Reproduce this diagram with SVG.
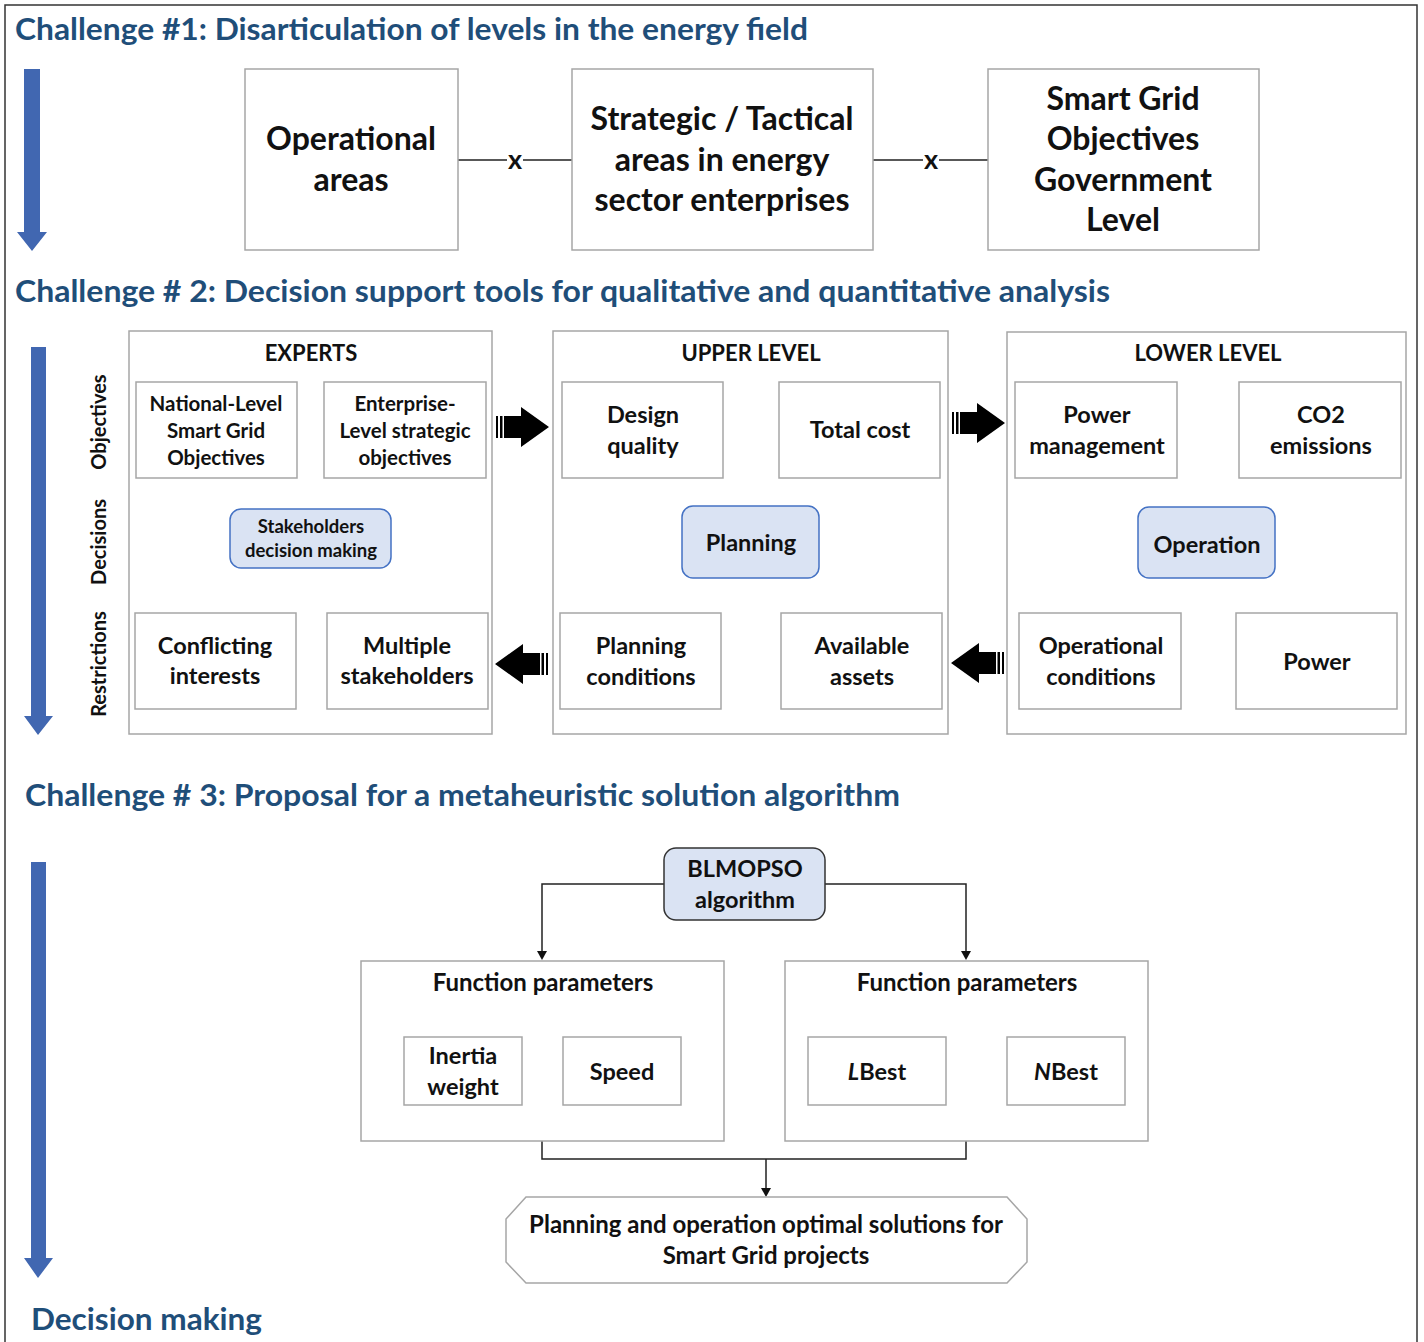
<svg xmlns="http://www.w3.org/2000/svg" width="1424" height="1342" viewBox="0 0 1424 1342">
<style>
text{font-family:Lato,"Liberation Sans",sans-serif;font-weight:bold;fill:#111;text-anchor:middle}
.title{fill:#1F4E79;text-anchor:start;font-size:30px}
.box{fill:#fff;stroke:#A6A6A6;stroke-width:1.5}
.grp{fill:#fff;stroke:#A6A6A6;stroke-width:1.5}
.dec{fill:#DAE3F3;stroke:#4472C4;stroke-width:1.5}
.blue{fill:#4167B1}
.conn{fill:none;stroke:#222;stroke-width:1.5}
.blk{fill:#000}
.t32{font-size:32px}
.t23{font-size:23.5px}
.t22{font-size:22px}
.xm{font-size:27px}
.fp{font-size:24px}
.t20{font-size:20.5px}
.t18{font-size:18.5px}
.side{font-size:20px}
</style>
<rect width="1424" height="1342" fill="#fff"/>
<path d="M5,1342 V5 H1417 V1342" fill="none" stroke="#333" stroke-width="1.5"/>

<!-- Titles -->
<text class="title" x="15" y="40" textLength="793" lengthAdjust="spacingAndGlyphs">Challenge #1: Disarticulation of levels in the energy field</text>
<text class="title" x="15" y="302" textLength="1095" lengthAdjust="spacingAndGlyphs">Challenge # 2: Decision support tools for qualitative and quantitative analysis</text>
<text class="title" x="25" y="806" textLength="875" lengthAdjust="spacingAndGlyphs">Challenge # 3: Proposal for a metaheuristic solution algorithm</text>
<text class="title" x="31" y="1330" textLength="231" lengthAdjust="spacingAndGlyphs">Decision making</text>

<!-- Blue arrows -->
<path class="blue" d="M24,69 H40 V232 H47 L32,251 L17,232 H24 Z"/>
<path class="blue" d="M31,347 H46 V716 H53 L38,735 L24,716 H31 Z"/>
<path class="blue" d="M31,862 H46 V1258 H53 L38,1278 L24,1258 H31 Z"/>

<!-- Side labels -->
<text class="side" transform="translate(106,422) rotate(-90)">Objectives</text>
<text class="side" transform="translate(106,542) rotate(-90)">Decisions</text>
<text class="side" transform="translate(106,664) rotate(-90)">Restrictions</text>

<!-- Connectors -->
<g id="connectors">
<path class="conn" d="M458,160 H507 M523,160 H572"/>
<text class="xm" x="515" y="169">x</text>
<path class="conn" d="M873,160 H923 M939,160 H988"/>
<text class="xm" x="931" y="169">x</text>
<g class="blk">
<rect x="496" y="416" width="2" height="22"/><rect x="500" y="416" width="2.5" height="22"/>
<path d="M504,416 H521 V407 L549,427 L521,447 V438 H504 Z"/>
<rect x="952" y="412" width="2" height="22"/><rect x="956" y="412" width="2.5" height="22"/>
<path d="M960,412 H977 V403 L1005,423 L977,443 V434 H960 Z"/>
<rect x="546" y="653" width="2" height="22"/><rect x="541.5" y="653" width="2.5" height="22"/>
<path d="M540,653 H523 V644 L495,664 L523,684 V675 H540 Z"/>
<rect x="1002" y="652" width="2" height="22"/><rect x="997.5" y="652" width="2.5" height="22"/>
<path d="M996,652 H979 V643 L951,663 L979,683 V674 H996 Z"/>
</g>
<path class="conn" d="M664,884 H542 V952"/>
<path d="M537,951 H547 L542,960 Z" fill="#111"/>
<path class="conn" d="M825,884 H966 V952"/>
<path d="M961,951 H971 L966,960 Z" fill="#111"/>
<path class="conn" d="M542,1141 V1159 H966 V1141 M766,1159 V1189"/>
<path d="M761,1188 H771 L766,1197 Z" fill="#111"/>
</g>

<!-- Challenge 1 nodes -->
<g id="operational-areas">
<rect class="box" x="245" y="69" width="213" height="181"/>
<text class="t32" x="351" y="150">Operational</text>
<text class="t32" x="351" y="191">areas</text>
</g>
<g id="strategic-tactical">
<rect class="box" x="572" y="69" width="301" height="181"/>
<text class="t32" x="722" y="130">Strategic / Tactical</text>
<text class="t32" x="722" y="171">areas in energy</text>
<text class="t32" x="722" y="211">sector enterprises</text>
</g>
<g id="smart-grid-government">
<rect class="box" x="988" y="69" width="271" height="181"/>
<text class="t32" x="1123" y="110">Smart Grid</text>
<text class="t32" x="1123" y="150">Objectives</text>
<text class="t32" x="1123" y="191">Government</text>
<text class="t32" x="1123" y="231">Level</text>
</g>

<!-- Experts -->
<g id="experts">
<rect class="grp" x="129" y="331" width="363" height="403"/>
<text class="t22" x="311" y="361">EXPERTS</text>
</g>
<g id="national-level">
<rect class="box" x="136" y="382" width="161" height="96"/>
<text class="t20" x="216" y="411">National-Level</text>
<text class="t20" x="216" y="438">Smart Grid</text>
<text class="t20" x="216" y="465">Objectives</text>
</g>
<g id="enterprise-level">
<rect class="box" x="324" y="382" width="162" height="96"/>
<text class="t20" x="405" y="411">Enterprise-</text>
<text class="t20" x="405" y="438">Level strategic</text>
<text class="t20" x="405" y="465">objectives</text>
</g>
<g id="stakeholders-decision">
<rect class="dec" x="230" y="509" width="161" height="59" rx="11"/>
<text class="t18" x="311" y="533">Stakeholders</text>
<text class="t18" x="311" y="557">decision making</text>
</g>
<g id="conflicting-interests">
<rect class="box" x="135" y="613" width="161" height="96"/>
<text class="t23" x="215" y="654">Conflicting</text>
<text class="t23" x="215" y="684">interests</text>
</g>
<g id="multiple-stakeholders">
<rect class="box" x="327" y="613" width="161" height="96"/>
<text class="t23" x="407" y="654">Multiple</text>
<text class="t23" x="407" y="684">stakeholders</text>
</g>

<!-- Upper level -->
<g id="upper-level">
<rect class="grp" x="553" y="331" width="395" height="403"/>
<text class="t22" x="751" y="361">UPPER LEVEL</text>
</g>
<g id="design-quality">
<rect class="box" x="562" y="382" width="161" height="96"/>
<text class="t23" x="643" y="423">Design</text>
<text class="t23" x="643" y="454">quality</text>
</g>
<g id="total-cost">
<rect class="box" x="779" y="382" width="161" height="96"/>
<text class="t23" x="860" y="438">Total cost</text>
</g>
<g id="planning">
<rect class="dec" x="682" y="506" width="137" height="72" rx="11"/>
<text class="t23" x="751" y="551">Planning</text>
</g>
<g id="planning-conditions">
<rect class="box" x="560" y="613" width="161" height="96"/>
<text class="t23" x="641" y="654">Planning</text>
<text class="t23" x="641" y="685">conditions</text>
</g>
<g id="available-assets">
<rect class="box" x="781" y="613" width="161" height="96"/>
<text class="t23" x="862" y="654">Available</text>
<text class="t23" x="862" y="685">assets</text>
</g>

<!-- Lower level -->
<g id="lower-level">
<rect class="grp" x="1007" y="332" width="399" height="402"/>
<text class="t22" x="1208" y="361">LOWER LEVEL</text>
</g>
<g id="power-management">
<rect class="box" x="1015" y="382" width="162" height="96"/>
<text class="t23" x="1097" y="423">Power</text>
<text class="t23" x="1097" y="454">management</text>
</g>
<g id="co2-emissions">
<rect class="box" x="1239" y="382" width="162" height="96"/>
<text class="t23" x="1321" y="423">CO2</text>
<text class="t23" x="1321" y="454">emissions</text>
</g>
<g id="operation">
<rect class="dec" x="1138" y="507" width="137" height="71" rx="11"/>
<text class="t23" x="1207" y="553">Operation</text>
</g>
<g id="operational-conditions">
<rect class="box" x="1019" y="613" width="162" height="96"/>
<text class="t23" x="1101" y="654">Operational</text>
<text class="t23" x="1101" y="685">conditions</text>
</g>
<g id="power">
<rect class="box" x="1236" y="613" width="161" height="96"/>
<text class="t23" x="1317" y="670">Power</text>
</g>

<!-- Challenge 3 -->
<g id="blmopso">
<rect x="664" y="848" width="161" height="72" rx="12" fill="#DAE3F3" stroke="#333" stroke-width="1.5"/>
<text class="t23" x="745" y="877">BLMOPSO</text>
<text class="t23" x="745" y="908">algorithm</text>
</g>
<g id="function-parameters-left">
<rect class="grp" x="361" y="961" width="363" height="180"/>
<text class="fp" x="543" y="991">Function parameters</text>
</g>
<g id="inertia-weight">
<rect class="box" x="404" y="1037" width="118" height="68"/>
<text class="t23" x="463" y="1064">Inertia</text>
<text class="t23" x="463" y="1095">weight</text>
</g>
<g id="speed">
<rect class="box" x="563" y="1037" width="118" height="68"/>
<text class="t23" x="622" y="1080">Speed</text>
</g>
<g id="function-parameters-right">
<rect class="grp" x="785" y="961" width="363" height="180"/>
<text class="fp" x="967" y="991">Function parameters</text>
</g>
<g id="lbest">
<rect class="box" x="808" y="1037" width="138" height="68"/>
<text class="t23" x="877" y="1080"><tspan font-style="italic">L</tspan>Best</text>
</g>
<g id="nbest">
<rect class="box" x="1007" y="1037" width="118" height="68"/>
<text class="t23" x="1066" y="1080"><tspan font-style="italic">N</tspan>Best</text>
</g>
<g id="optimal-solutions">
<path class="box" d="M526,1197 H1007 L1027,1219 V1262 L1007,1283 H526 L506,1262 V1219 Z"/>
<text class="fp" x="766" y="1233">Planning and operation optimal solutions for</text>
<text class="fp" x="766" y="1264">Smart Grid projects</text>
</g>
</svg>
